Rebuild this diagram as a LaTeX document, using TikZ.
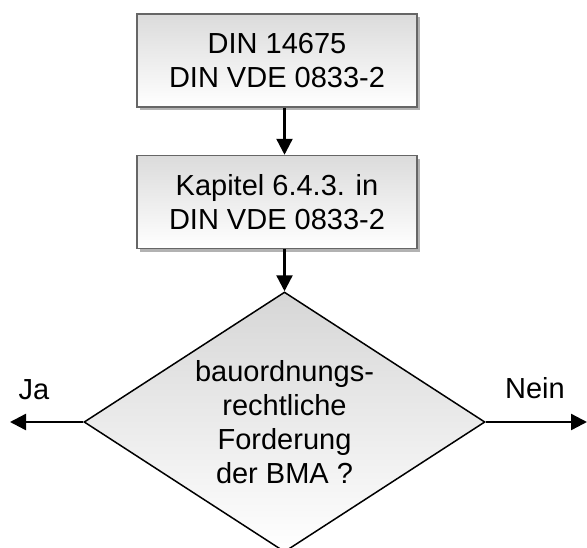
\documentclass[tikz,border=0pt]{standalone}
\usepackage{fontspec}
\setmainfont{Liberation Sans}
\usetikzlibrary{positioning,shapes.geometric,shadows,arrows.meta}

\tikzset{
  box/.style={rectangle, draw=black!60, line width=1.5pt, top color=gray!28, bottom color=white,
    minimum width=280pt, minimum height=93pt, align=center,
    drop shadow={shadow xshift=3pt, shadow yshift=-3pt, fill=gray!60, opacity=1}},
  decide/.style={diamond, draw, line width=1.5pt, top color=gray!32, bottom color=white,
    minimum width=401pt, minimum height=260pt, aspect=1.54, inner sep=0pt, align=center},
  pfeil/.style={line width=2.4pt, -{Triangle[length=16pt,width=16pt]}}
}

\begin{document}
\begin{tikzpicture}[x=1pt,y=-1pt,font=\fontsize{29}{34}\selectfont,node distance=47pt]
    \useasboundingbox (0,0) rectangle (587,547);
    \clip (0,0) rectangle (587,547);
    \node[box] (din) at (277,60.5) {DIN 14675\\DIN VDE 0833-2};
    \node[box, below=of din] (kap) {Kapitel 6.4.3. in\\DIN VDE 0833-2};
    \node[decide] (bma) at (284.5,422) {bauordnungs-\\rechtliche\\Forderung\\der BMA ?};
    \coordinate (l) at (10,422);
    \coordinate (r) at (587,422);
    \node (ja) at (34,390) {Ja};
    \node (nein) at (535,388) {Nein};
    \draw[pfeil] (bma.north |- din.south) -- (bma.north |- kap.north);
    \draw[pfeil] (bma.north |- kap.south) -- (bma.north);
    \draw[pfeil] (bma.west) -- (l);
    \draw[pfeil] (bma.east) -- (r);
\end{tikzpicture}
\end{document}
